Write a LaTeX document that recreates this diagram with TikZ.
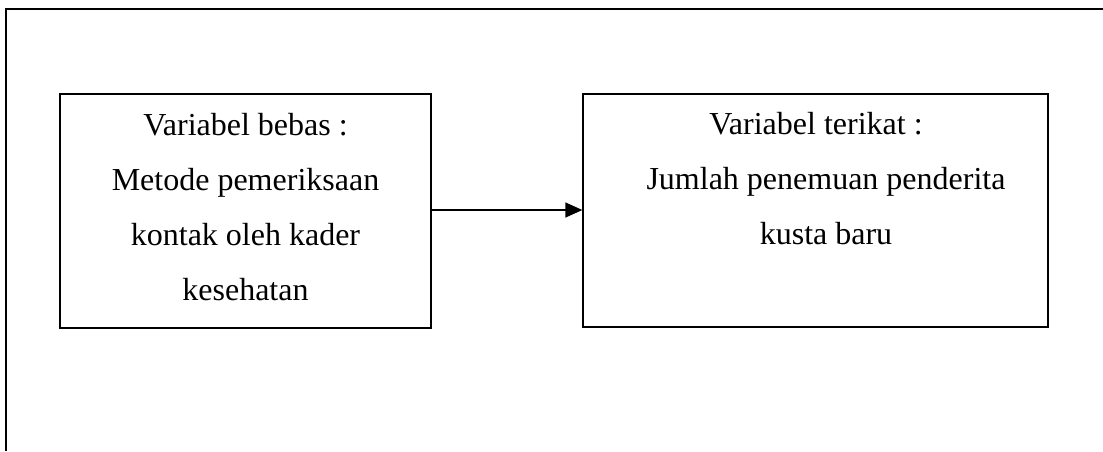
\documentclass[tikz,border=0pt]{standalone}
\usepackage{fontspec}
\setmainfont{Liberation Serif}
\usetikzlibrary{arrows.meta}
\begin{document}
\begin{tikzpicture}[x=1pt,y=-1pt,
  frame/.style={line width=2pt},
  varbox/.style={draw,line width=1.3pt,inner sep=0pt},
  vartext/.style={align=center,inner sep=0pt,anchor=north,
    font=\fontsize{32}{55}\selectfont},
  link/.style={line width=1.3pt,-{Triangle[length=17pt,width=15pt]}}]
\useasboundingbox (0,0) rectangle (1103,451);
\coordinate (fa) at (6,451);
\coordinate (fb) at (6,9);
\coordinate (fc) at (1103,9);
\draw[frame] (fa) -- (fb) -- (fc);
\node[varbox,minimum width=371pt,minimum height=234pt] (lbox) at (245.5,211) {};
\node[varbox,minimum width=465pt,minimum height=233pt] (rbox) at (815.5,210.5) {};
\node[vartext] (ltext) at (245.5,113) {Variabel bebas :\\Metode pemeriksaan\\kontak oleh kader\\kesehatan};
\node[vartext] (rtext) at (816,112) {Variabel terikat :\\\hspace*{20pt}Jumlah penemuan penderita\\\hspace*{20pt}kusta baru};
\coordinate (lout) at ([yshift=1pt]lbox.east);
\draw[link] (lout) -- (lout -| rbox.west);
\end{tikzpicture}
\end{document}
